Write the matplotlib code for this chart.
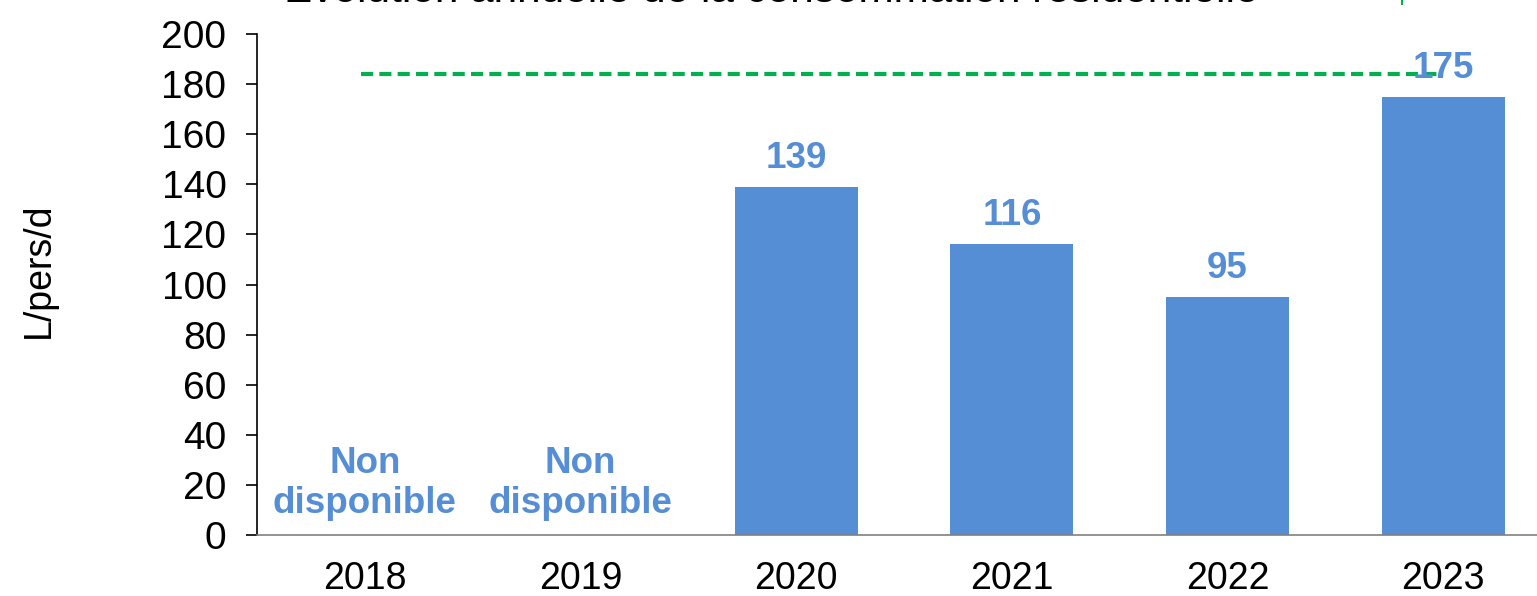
import matplotlib.pyplot as plt
from matplotlib.lines import Line2D

years = ["2018", "2019", "2020", "2021", "2022", "2023"]
values = [None, None, 139, 116, 95, 175]
target = 184
na_label = "Non\ndisponible"
title = "Évolution annuelle de la consommation résidentielle"
ylabel = "L/pers/d"

blue = "#558ED5"
green = "#00B050"

plt.rcParams['font.family'] = ['Liberation Sans', 'DejaVu Sans']

fig = plt.figure(figsize=(15.37, 5.96), dpi=100)
ax = fig.add_axes([0.1672, 0.1023, 0.842, 0.8406])

x = list(range(len(years)))
for i, v in enumerate(values):
    if v is None:
        ax.text(i, 20.5, na_label, ha="center", va="center", fontsize=26.5,
                fontweight="bold", color=blue, linespacing=1.2)
    else:
        ax.bar(i, v, width=0.57, color=blue)
        ax.annotate(str(v), (i, v), xytext=(0, 8), textcoords="offset points",
                    ha="center", va="bottom", fontsize=26.5, fontweight="bold",
                    color=blue, zorder=5)

ax.hlines(target, -0.02, 4.98, colors=green, linestyles=(0, (2.9, 1.5)),
          linewidth=3, zorder=3)

ax.set_xlim(-0.5, 5.5)
ax.set_ylim(0, 200)
ax.set_yticks(range(0, 201, 20))
ax.set_xticks(x)
ax.set_xticklabels(years)
ax.tick_params(axis="y", labelsize=28, length=8, width=1.2, direction="out", pad=14)
ax.tick_params(axis="x", labelsize=27, length=0, pad=19)
ax.spines["top"].set_visible(False)
ax.spines["right"].set_visible(False)
ax.spines["left"].set_linewidth(1.2)
ax.spines["bottom"].set_color("#808080")
ax.spines["bottom"].set_linewidth(1.2)
ax.set_ylabel(ylabel, fontsize=27, labelpad=75, y=0.529)

fig.text(0.502, 0.9966, title, ha="center", va="baseline", fontsize=30.5)
fig.add_artist(Line2D([0.9122, 0.9122], [0.993, 1.0], transform=fig.transFigure,
                      color=green, linewidth=1.5))

fig.savefig("out.png", dpi=100)
